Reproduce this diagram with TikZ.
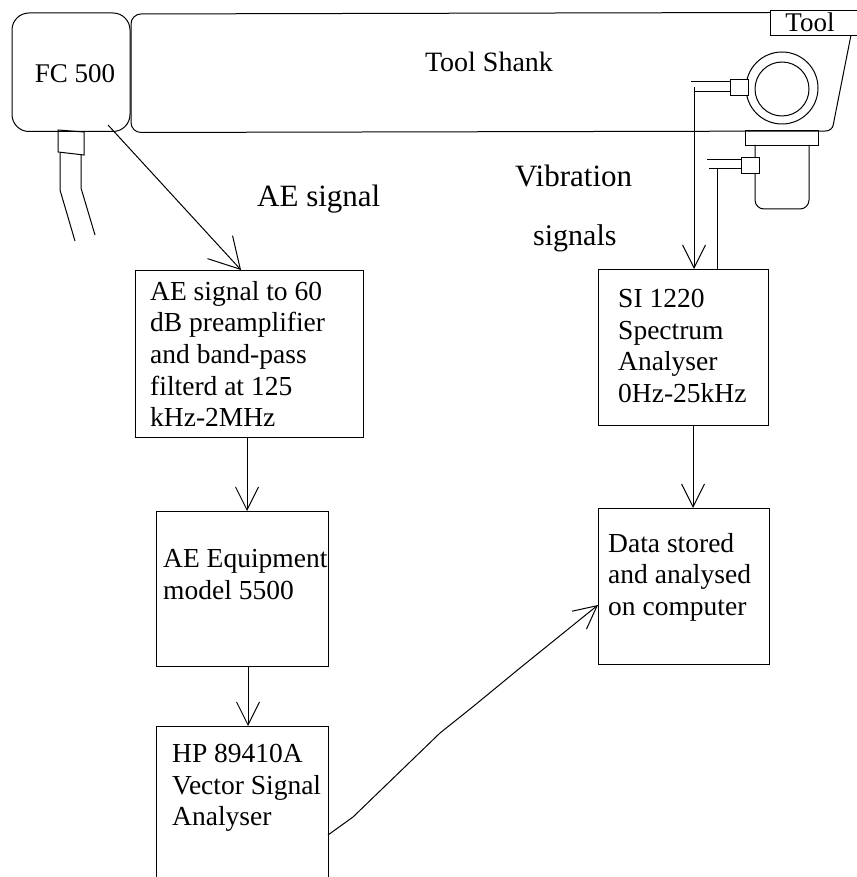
\documentclass[tikz,border=0pt]{standalone}
\usepackage{fontspec}
\setmainfont{Liberation Serif}
\usetikzlibrary{arrows.meta}
\tikzset{
 ln/.style={line width=1pt,black},
 flow/.style={ln,-{Straight Barb[length=23pt,width=23pt,line width=1pt]}},
 flowbig/.style={ln,-{Straight Barb[length=30pt,width=34pt,line width=1pt]}},
 blk/.style={draw,ln,anchor=north west,inner sep=0pt,outer sep=0pt},
 lbl/.style={align=left,anchor=north west,inner sep=0pt,font=\fontsize{27.5}{31.6}\selectfont},
 big/.style={anchor=base west,inner sep=0pt,font=\fontsize{31}{36}\selectfont}
}
\begin{document}
\begin{tikzpicture}[x=1pt,y=-1pt]
\useasboundingbox (0,0) rectangle (856,877);
% process boxes
\node[blk,minimum width=228pt,minimum height=167pt] (filt) at (135,270) {};
\node[blk,minimum width=172pt,minimum height=155pt] (equip) at (156,511) {};
\node[blk,minimum width=172pt,minimum height=160pt] (hp) at (156,726) {};
\node[blk,minimum width=170pt,minimum height=156pt] (si) at (598,269) {};
\node[blk,minimum width=171pt,minimum height=156pt] (data) at (598,508) {};
% box labels
\node[lbl] (t1) at (150,281) {AE signal to 60\\dB preamplifier\\and band-pass\\filterd at 125\\kHz-2MHz};
\node[lbl] (t2) at (163,549) {AE Equipment\\model 5500};
\node[lbl] (t3) at (172,744) {HP 89410A\\Vector Signal\\Analyser};
\node[lbl] (t4) at (618,289) {SI 1220\\Spectrum\\Analyser\\0Hz-25kHz};
\node[lbl] (t5) at (608,533) {Data stored\\and analysed\\on computer};
% sensor FC 500
\draw[ln,rounded corners=17pt] (12,13) rectangle (130,131.5);
\node[inner sep=0pt,anchor=base,font=\fontsize{27}{31.5}\selectfont] (fc) at (75,83) {FC 500};
\coordinate (fcout) at (108,125);
\draw[ln] (58,130) -- (84,132) -- (84,155) -- (58,152) -- cycle;
\draw[ln] (60,153) -- (60,190) -- (75,241);
\draw[ln] (81,155) -- (81,188) -- (95,235);
% tool shank
\draw[ln,rounded corners=10pt] (770,12.5) -- (131,14) -- (131,132.5) -- (826,131);
\draw[ln,rounded corners=6pt] (826,131) -- (832,131) -- (851,35);
\node[draw,ln,minimum width=90pt,minimum height=25pt,anchor=north west,inner sep=0pt] (toolbox) at (770,10) {};
\node[inner sep=0pt,anchor=base,font=\fontsize{27}{30}\selectfont] (tool) at (810,32) {Tool};
\node[inner sep=0pt,font=\fontsize{28}{31.5}\selectfont] (shank) at (489,62) {Tool Shank};
% upper tool holder
\draw[ln] (782,88) circle[radius=36pt];
\draw[ln] (782,89) circle[radius=27pt];
\node[draw,ln,fill=white,minimum width=18pt,minimum height=16pt,inner sep=0pt,anchor=north west] (s1) at (730,79) {};
\draw[ln] (691,82) -- (730,82);
\draw[ln] (694,91.5) -- (730,91.5);
\coordinate (v1) at (694,87);
% lower tool holder
\draw[ln] (745,131) rectangle (818,145.5);
\draw[ln,rounded corners=9pt] (755,145) -- (755,209) -- (809,209) -- (809,145);
\node[draw,ln,fill=white,minimum width=18pt,minimum height=16pt,inner sep=0pt,anchor=north west] (s2) at (741,157) {};
\draw[ln] (707,160) -- (741,160);
\draw[ln] (709,169) -- (741,169);
\coordinate (v2) at (717,169);
% connectors
\draw[flowbig] (fcout) -- (filt.north west -| 241,0);
\draw[flow] (filt.south -| 247,0) -- (equip.north -| 247,0);
\draw[flow] (equip.south -| 248,0) -- (hp.north -| 248,0);
\draw[flow] (si.south -| 693,0) -- (data.north -| 693,0);
\draw[flow] (v1) -- (si.north -| 694,0);
\draw[ln] (v2) -- (si.north -| 717,0);
\coordinate (hpout) at (hp.east |- 0,835);
\coordinate (datain) at (data.west |- 0,605);
\draw[flow] (hpout) -- (353,817) -- (440,733) -- (475,705) -- (520,668) -- (datain);
% free labels
\node[big] (ae) at (257,207) {AE signal};
\node[big] (vib) at (515,187) {Vibration};
\node[big,font=\fontsize{30}{36}\selectfont] (sig) at (533,245) {signals};
\end{tikzpicture}
\end{document}
